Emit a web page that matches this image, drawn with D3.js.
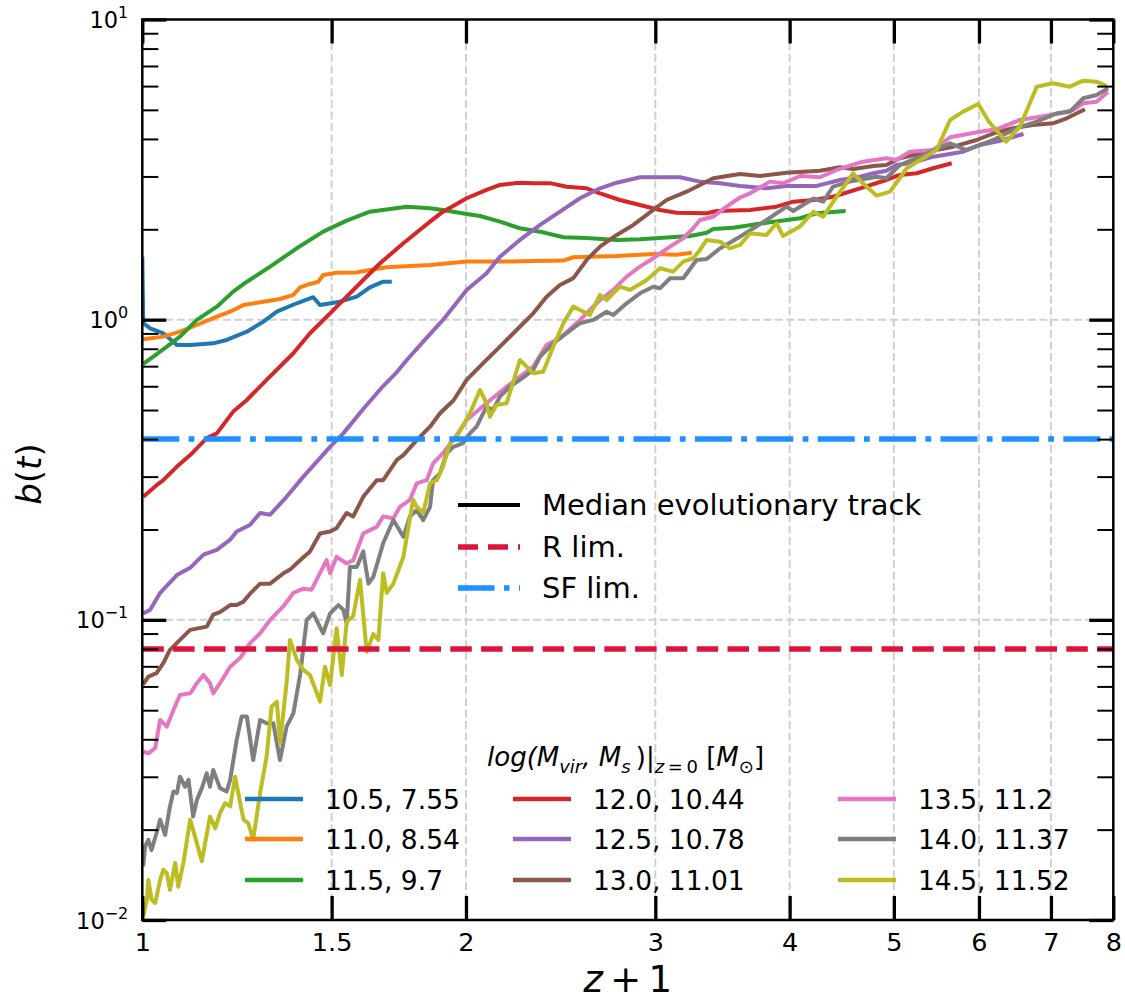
<!DOCTYPE html>
<html>
<head>
<meta charset="utf-8">
<title>b(t) evolutionary tracks</title>
<script src="https://cdn.jsdelivr.net/npm/d3@7/dist/d3.min.js"></script>
<style>
  body { margin: 0; background: #fff; }
  svg { font-family: 'DejaVu Sans', sans-serif; }
</style>
</head>
<body>
<div id="chart"></div>
<script>
'use strict';

// axis ticks
var xTicks = [ 1, 1.5, 2, 3, 4, 5, 6, 7, 8 ];
var yMajor = [ 0.01, 0.1, 1, 10 ];
var yMinor = [ 2, 3, 4, 5, 6, 7, 8, 9 ];
var yExponents = [ '\u22122', '\u22121', '0', '1' ];

// legend texts
var massLabels = [
  '10.5, 7.55', '11.0, 8.54', '11.5, 9.7',
  '12.0, 10.44', '12.5, 10.78', '13.0, 11.01',
  '13.5, 11.2', '14.0, 11.37', '14.5, 11.52'
];
var limitLabels = [ 'Median evolutionary track', 'R lim.', 'SF lim.' ];

// horizontal limits
var rLim = 0.08;
var sfLim = 0.4;

// tracks: [z + 1, b(t)]
var track105 = [[1.000,1.62],[1.002,0.973],[1.017,0.936],[1.046,0.901],[1.077,0.823],[1.108,0.823],[1.164,0.834],[1.198,0.856],[1.251,0.912],[1.296,0.985],[1.334,1.063],[1.392,1.134],[1.442,1.188],[1.463,1.119],[1.527,1.148],[1.583,1.193],[1.628,1.282],[1.675,1.338],[1.706,1.338]];

var track110 = [[1.002,0.860],[1.046,0.878],[1.084,0.912],[1.124,0.960],[1.173,1.023],[1.207,1.063],[1.242,1.119],[1.296,1.148],[1.343,1.172],[1.382,1.209],[1.402,1.282],[1.432,1.315],[1.458,1.338],[1.473,1.409],[1.516,1.434],[1.583,1.437],[1.628,1.464],[1.688,1.495],[1.852,1.521],[2.003,1.561],[2.151,1.561],[2.464,1.573],[2.517,1.614],[2.762,1.630],[2.987,1.655],[3.140,1.646],[3.244,1.672]];

var track115 = [[1.002,0.712],[1.024,0.753],[1.054,0.813],[1.084,0.878],[1.124,0.998],[1.173,1.105],[1.215,1.240],[1.251,1.338],[1.315,1.502],[1.392,1.729],[1.473,1.964],[1.549,2.137],[1.628,2.290],[1.762,2.379],[1.852,2.350],[1.904,2.320],[2.003,2.250],[2.061,2.215],[2.151,2.121],[2.245,2.016],[2.344,1.964],[2.464,1.882],[2.590,1.872],[2.762,1.843],[2.903,1.853],[3.051,1.876],[3.232,1.900],[3.349,1.949],[3.396,2.004],[3.545,2.025],[3.807,2.104],[4.090,2.177],[4.238,2.262],[4.509,2.302]];

var track120 = [[1.002,0.257],[1.031,0.281],[1.046,0.292],[1.077,0.324],[1.108,0.354],[1.148,0.403],[1.173,0.418],[1.215,0.494],[1.251,0.540],[1.305,0.630],[1.382,0.773],[1.432,0.901],[1.495,1.050],[1.549,1.193],[1.605,1.356],[1.664,1.541],[1.749,1.797],[1.852,2.121],[1.904,2.290],[2.003,2.538],[2.090,2.705],[2.151,2.810],[2.245,2.860],[2.310,2.850],[2.394,2.850],[2.481,2.773],[2.590,2.739],[2.665,2.636],[2.781,2.504],[2.903,2.410],[3.030,2.320],[3.140,2.272],[3.349,2.262],[3.421,2.302],[3.675,2.320],[3.889,2.379],[4.031,2.472],[4.210,2.504],[4.390,2.568],[4.650,2.739],[4.920,2.920],[5.065,3.034],[5.250,3.074],[5.440,3.194],[5.660,3.319]];

var track125 = [[1.002,0.105],[1.017,0.108],[1.039,0.123],[1.077,0.141],[1.108,0.149],[1.140,0.165],[1.173,0.171],[1.207,0.185],[1.224,0.197],[1.259,0.207],[1.287,0.227],[1.315,0.224],[1.362,0.257],[1.412,0.300],[1.495,0.377],[1.538,0.418],[1.605,0.504],[1.675,0.601],[1.725,0.669],[1.762,0.734],[1.825,0.845],[1.904,0.998],[2.003,1.256],[2.090,1.427],[2.151,1.621],[2.245,1.843],[2.344,2.068],[2.446,2.290],[2.553,2.538],[2.665,2.739],[2.762,2.860],[2.903,2.981],[3.163,2.981],[3.301,2.883],[3.447,2.848],[3.597,2.790],[3.807,2.739],[3.974,2.790],[4.238,2.790],[4.455,2.920],[4.650,2.995],[4.785,3.074],[4.920,3.136],[5.029,3.276],[5.210,3.334],[5.440,3.491],[5.800,3.627],[6.010,3.819],[6.280,3.947],[6.600,4.155]];

var track130 = [[1.002,0.061],[1.013,0.0647],[1.031,0.0664],[1.046,0.0717],[1.061,0.0794],[1.084,0.0857],[1.108,0.0926],[1.148,0.0949],[1.164,0.104],[1.181,0.106],[1.207,0.112],[1.224,0.112],[1.242,0.115],[1.259,0.122],[1.287,0.132],[1.315,0.132],[1.353,0.143],[1.372,0.147],[1.402,0.158],[1.432,0.169],[1.463,0.194],[1.495,0.197],[1.516,0.202],[1.549,0.227],[1.571,0.221],[1.605,0.257],[1.652,0.292],[1.675,0.292],[1.725,0.341],[1.749,0.354],[1.800,0.397],[1.852,0.440],[1.892,0.488],[1.947,0.538],[2.003,0.630],[2.075,0.716],[2.151,0.813],[2.229,0.924],[2.310,1.050],[2.377,1.193],[2.446,1.305],[2.517,1.375],[2.590,1.581],[2.665,1.751],[2.762,1.915],[2.862,2.068],[2.945,2.233],[3.073,2.504],[3.208,2.669],[3.301,2.810],[3.396,2.958],[3.597,3.057],[3.755,3.010],[3.974,3.088],[4.268,3.136],[4.455,3.219],[4.584,3.177],[4.785,3.251],[4.920,3.276],[5.065,3.448],[5.365,3.627],[5.680,3.770],[5.970,3.968],[6.190,4.177],[6.450,4.341],[6.730,4.452],[7.030,4.510],[7.240,4.688],[7.530,5.022]];

var track135 = [[1.002,0.0364],[1.013,0.0359],[1.028,0.0374],[1.039,0.0464],[1.054,0.0441],[1.069,0.0501],[1.084,0.0562],[1.108,0.0569],[1.124,0.0615],[1.140,0.0655],[1.156,0.0615],[1.164,0.0569],[1.181,0.0615],[1.207,0.0698],[1.233,0.0746],[1.259,0.0835],[1.287,0.0902],[1.315,0.0999],[1.353,0.111],[1.382,0.123],[1.412,0.127],[1.437,0.126],[1.463,0.143],[1.484,0.158],[1.495,0.143],[1.516,0.162],[1.549,0.154],[1.571,0.158],[1.605,0.194],[1.652,0.204],[1.675,0.221],[1.712,0.218],[1.736,0.238],[1.774,0.251],[1.800,0.285],[1.839,0.292],[1.864,0.332],[1.904,0.359],[1.947,0.398],[2.003,0.463],[2.090,0.527],[2.182,0.598],[2.245,0.646],[2.310,0.697],[2.377,0.824],[2.446,0.867],[2.553,0.998],[2.665,1.163],[2.742,1.256],[2.821,1.391],[2.903,1.502],[2.987,1.602],[3.096,1.751],[3.185,1.867],[3.254,2.016],[3.301,2.148],[3.396,2.203],[3.495,2.379],[3.597,2.553],[3.675,2.636],[3.835,2.883],[3.944,2.848],[4.090,3.010],[4.268,2.981],[4.424,3.153],[4.680,3.360],[4.920,3.448],[5.029,3.404],[5.174,3.627],[5.440,3.675],[5.640,4.052],[6.010,4.230],[6.230,4.308],[6.550,4.627],[6.840,4.746],[7.140,4.871],[7.340,4.996],[7.500,5.260],[7.720,5.325],[7.910,5.748]];

var track140 = [[1.002,0.0151],[1.006,0.0176],[1.013,0.0185],[1.020,0.0171],[1.031,0.0195],[1.039,0.0216],[1.050,0.0192],[1.061,0.0239],[1.069,0.0268],[1.077,0.0265],[1.084,0.0300],[1.096,0.0278],[1.104,0.0293],[1.115,0.0221],[1.124,0.0251],[1.136,0.0275],[1.148,0.0308],[1.156,0.0278],[1.164,0.0316],[1.181,0.0275],[1.198,0.0268],[1.207,0.0293],[1.224,0.0398],[1.237,0.0476],[1.251,0.0476],[1.268,0.0341],[1.287,0.0464],[1.305,0.0452],[1.324,0.0452],[1.343,0.0341],[1.362,0.0441],[1.382,0.0488],[1.402,0.0655],[1.422,0.0999],[1.442,0.105],[1.473,0.0902],[1.495,0.105],[1.522,0.112],[1.538,0.108],[1.549,0.0974],[1.560,0.150],[1.583,0.150],[1.605,0.169],[1.623,0.132],[1.640,0.139],[1.675,0.180],[1.712,0.215],[1.749,0.189],[1.774,0.221],[1.800,0.232],[1.825,0.215],[1.852,0.238],[1.864,0.292],[1.892,0.308],[1.919,0.359],[1.947,0.377],[1.988,0.388],[2.017,0.418],[2.046,0.440],[2.090,0.513],[2.119,0.500],[2.151,0.554],[2.198,0.598],[2.245,0.630],[2.310,0.680],[2.344,0.753],[2.411,0.834],[2.481,0.901],[2.553,0.973],[2.627,0.998],[2.703,1.063],[2.742,1.037],[2.821,1.134],[2.903,1.224],[2.987,1.288],[3.030,1.272],[3.096,1.374],[3.185,1.374],[3.277,1.581],[3.349,1.593],[3.447,1.729],[3.597,1.890],[3.807,2.148],[3.974,2.379],[4.031,2.302],[4.210,2.533],[4.298,2.472],[4.390,2.773],[4.550,2.883],[4.820,2.995],[4.920,2.958],[5.065,3.276],[5.290,3.491],[5.640,3.869],[5.840,3.675],[6.190,3.968],[6.500,4.341],[6.790,4.566],[7.090,4.871],[7.290,4.932],[7.500,5.464],[7.720,5.604],[7.910,5.899]];

var track145 = [[1.002,0.0103],[1.010,0.0117],[1.013,0.0136],[1.020,0.0117],[1.028,0.0114],[1.039,0.0136],[1.046,0.0147],[1.054,0.0143],[1.061,0.0126],[1.073,0.0155],[1.080,0.0129],[1.092,0.0155],[1.108,0.0216],[1.124,0.0180],[1.136,0.0157],[1.156,0.0221],[1.169,0.0202],[1.181,0.0227],[1.194,0.0245],[1.207,0.0239],[1.220,0.0300],[1.228,0.0265],[1.242,0.0216],[1.255,0.0210],[1.268,0.0185],[1.287,0.0265],[1.305,0.0350],[1.319,0.0514],[1.334,0.0534],[1.343,0.0388],[1.362,0.0615],[1.372,0.0857],[1.392,0.0735],[1.412,0.0681],[1.432,0.0655],[1.463,0.0534],[1.479,0.0698],[1.495,0.0607],[1.516,0.0938],[1.533,0.0655],[1.549,0.0984],[1.571,0.103],[1.594,0.136],[1.617,0.0782],[1.640,0.0897],[1.658,0.0857],[1.675,0.143],[1.688,0.123],[1.712,0.132],[1.749,0.162],[1.786,0.251],[1.800,0.238],[1.825,0.227],[1.852,0.285],[1.879,0.292],[1.904,0.324],[1.933,0.388],[1.961,0.408],[2.017,0.488],[2.061,0.583],[2.090,0.527],[2.105,0.475],[2.135,0.520],[2.182,0.527],[2.245,0.734],[2.310,0.663],[2.360,0.671],[2.411,0.813],[2.464,0.973],[2.517,1.105],[2.553,1.077],[2.608,1.037],[2.665,1.209],[2.703,1.163],[2.781,1.288],[2.842,1.256],[2.945,1.356],[3.030,1.483],[3.117,1.445],[3.185,1.561],[3.254,1.602],[3.301,1.707],[3.349,1.843],[3.447,1.819],[3.520,1.729],[3.597,1.774],[3.675,1.940],[3.807,1.915],[3.889,2.095],[3.944,1.900],[4.090,2.044],[4.210,2.290],[4.298,2.203],[4.424,2.568],[4.584,3.074],[4.680,2.847],[4.820,2.588],[4.960,2.669],[5.140,3.194],[5.290,3.404],[5.480,3.675],[5.640,4.627],[5.800,4.932],[5.990,5.230],[6.130,4.566],[6.360,3.916],[6.550,4.395],[6.790,5.973],[7.030,6.131],[7.290,5.973],[7.500,6.254],[7.720,6.207],[7.890,6.005]];

var tracks = [ track105, track110, track115, track120, track125, track130, track135, track140, track145 ];

var colors = [ '#1f77b4', '#ff7f0e', '#2ca02c', '#d62728', '#9467bd', '#8c564b', '#e377c2', '#7f7f7f', '#bcbd22' ];

(function() {
  var width = 1125,
    height = 1001,
    frame = { left: 142.3, right: 1113.3, top: 19.5, bottom: 920 },
    svg,
    x,
    y,
    line,
    plot,
    minorValues;

  x = d3.scaleLog().domain( [ 1, 8 ] ).range( [ frame.left, frame.right ] );
  y = d3.scaleLog().domain( [ 0.01, 10 ] ).range( [ frame.bottom, frame.top ] );

  svg = d3.select( '#chart' )
    .append( 'svg' )
    .attr( 'width', width )
    .attr( 'height', height );

  svg.append( 'defs' )
    .append( 'clipPath' )
    .attr( 'id', 'plot-clip' )
    .append( 'rect' )
    .attr( 'x', frame.left )
    .attr( 'y', frame.top )
    .attr( 'width', frame.right - frame.left )
    .attr( 'height', frame.bottom - frame.top );

  // grid
  var grid = svg.append( 'g' )
    .attr( 'stroke', '#d0d0d0' )
    .attr( 'stroke-width', 2 )
    .attr( 'stroke-dasharray', '8,3.5' );

  grid.selectAll( '.vgrid' )
    .data( xTicks.slice( 1, -1 ) )
    .enter().append( 'line' )
    .attr( 'class', 'vgrid' )
    .attr( 'x1', function( d ) { return x( d ); })
    .attr( 'x2', function( d ) { return x( d ); })
    .attr( 'y1', frame.top )
    .attr( 'y2', frame.bottom );

  grid.selectAll( '.hgrid' )
    .data( yMajor.slice( 1, -1 ) )
    .enter().append( 'line' )
    .attr( 'class', 'hgrid' )
    .attr( 'x1', frame.left )
    .attr( 'x2', frame.right )
    .attr( 'y1', function( d ) { return y( d ); })
    .attr( 'y2', function( d ) { return y( d ); });

  // tracks
  line = d3.line()
    .x( function( d ) { return x( d[0] ); })
    .y( function( d ) { return y( d[1] ); });

  plot = svg.append( 'g' ).attr( 'clip-path', 'url(#plot-clip)' );

  plot.selectAll( '.track' )
    .data( tracks )
    .enter().append( 'path' )
    .attr( 'class', 'track' )
    .attr( 'd', line )
    .attr( 'fill', 'none' )
    .attr( 'stroke', function( d, i ) { return colors[i]; })
    .attr( 'stroke-width', 4 )
    .attr( 'stroke-linejoin', 'round' )
    .attr( 'stroke-linecap', 'butt' );

  // limits
  plot.append( 'line' )
    .attr( 'x1', x( 1 ) )
    .attr( 'x2', x( 8 ) )
    .attr( 'y1', y( rLim ) )
    .attr( 'y2', y( rLim ) )
    .attr( 'stroke', '#dc143c' )
    .attr( 'stroke-width', 5.5 )
    .attr( 'stroke-dasharray', '21.5,9.3' );

  plot.append( 'line' )
    .attr( 'x1', x( 1 ) )
    .attr( 'x2', x( 8 ) )
    .attr( 'y1', y( sfLim ) )
    .attr( 'y2', y( sfLim ) )
    .attr( 'stroke', '#1e90ff' )
    .attr( 'stroke-width', 5.5 )
    .attr( 'stroke-dasharray', '37,9.3,5.8,9.3' );

  // axes, ticks pointing inward
  minorValues = [];
  yMajor.slice( 0, -1 ).forEach(function( m ) {
    yMinor.forEach(function( k ) { minorValues.push( m * k ); });
  });

  function styleTicks( g, w ) {
    g.select( '.domain' ).remove();
    g.selectAll( '.tick line' )
      .attr( 'stroke', '#000' )
      .attr( 'stroke-width', w );
  }

  var xBottom = svg.append( 'g' )
    .attr( 'transform', 'translate(0,' + frame.bottom + ')' )
    .call( d3.axisBottom( x )
      .tickValues( xTicks )
      .tickSize( -24 )
      .tickPadding( 13 )
      .tickFormat( d3.format( '' ) ) );
  styleTicks( xBottom, 3.3 );
  xBottom.selectAll( 'text' )
    .attr( 'fill', '#000' )
    .style( 'font-size', '25.5px' )
    .style( 'font-family', 'DejaVu Sans' );

  var xTop = svg.append( 'g' )
    .attr( 'transform', 'translate(0,' + frame.top + ')' )
    .call( d3.axisTop( x ).tickValues( xTicks ).tickSize( -24 ).tickFormat( '' ) );
  styleTicks( xTop, 3.3 );

  [ [ d3.axisLeft, frame.left ], [ d3.axisRight, frame.right ] ].forEach(function( a ) {
    var major, minor;

    minor = svg.append( 'g' )
      .attr( 'transform', 'translate(' + a[1] + ',0)' )
      .call( a[0]( y ).tickValues( minorValues ).tickSize( -16 ).tickFormat( '' ) );
    styleTicks( minor, 2 );

    major = svg.append( 'g' )
      .attr( 'class', a[1] === frame.left ? 'y-left' : 'y-right' )
      .attr( 'transform', 'translate(' + a[1] + ',0)' )
      .call( a[0]( y ).tickValues( yMajor ).tickSize( -24 ).tickFormat( '' ) );
    styleTicks( major, 3.3 );
  });

  // y tick labels as 10 with superscript
  svg.select( '.y-left' ).selectAll( '.tick' )
    .each(function( d, i ) {
      var t = d3.select( this ).select( 'text' );

      t.attr( 'x', -14 )
        .attr( 'dy', null )
        .attr( 'y', 8 )
        .attr( 'fill', '#000' )
        .attr( 'text-anchor', 'end' )
        .style( 'font-size', '22.5px' )
        .style( 'font-family', 'DejaVu Sans' );
      t.append( 'tspan' ).text( '10' );
      t.append( 'tspan' )
        .attr( 'dy', -10 )
        .style( 'font-size', '16px' )
        .text( yExponents[i] );
    });

  svg.append( 'rect' )
    .attr( 'x', frame.left )
    .attr( 'y', frame.top )
    .attr( 'width', frame.right - frame.left )
    .attr( 'height', frame.bottom - frame.top )
    .attr( 'fill', 'none' )
    .attr( 'stroke', '#000' )
    .attr( 'stroke-width', 2.5 );

  // axis titles
  var yTitle = svg.append( 'text' )
    .attr( 'transform', 'translate(41,474) rotate(-90)' )
    .attr( 'text-anchor', 'middle' )
    .style( 'font-size', '34px' );
  yTitle.append( 'tspan' ).style( 'font-style', 'italic' ).text( 'b' );
  yTitle.append( 'tspan' ).text( '(' );
  yTitle.append( 'tspan' ).style( 'font-style', 'italic' ).text( 't' );
  yTitle.append( 'tspan' ).text( ')' );

  var xTitle = svg.append( 'text' )
    .attr( 'x', ( frame.left + frame.right ) / 2 )
    .attr( 'y', 992 )
    .attr( 'text-anchor', 'middle' )
    .style( 'font-size', '37px' );
  xTitle.append( 'tspan' ).style( 'font-style', 'italic' ).text( 'z' );
  xTitle.append( 'tspan' ).text( '\u2009+\u20091' );

  // legend for limits
  var limitLegend = svg.append( 'g' ).style( 'font-size', '29px' );
  var limitStyles = [
    { color: '#000', dash: null },
    { color: '#dc143c', dash: '20,10' },
    { color: '#1e90ff', dash: '36.5,9.5,5.5,9.5' }
  ];
  var limitRows = [ 505, 547, 588 ];

  limitLabels.forEach(function( label, i ) {
    limitLegend.append( 'line' )
      .attr( 'x1', 458 )
      .attr( 'x2', 520 )
      .attr( 'y1', limitRows[i] )
      .attr( 'y2', limitRows[i] )
      .attr( 'stroke', limitStyles[i].color )
      .attr( 'stroke-width', i === 0 ? 4 : 5.5 )
      .attr( 'stroke-dasharray', limitStyles[i].dash );

    limitLegend.append( 'text' )
      .attr( 'x', 542 )
      .attr( 'y', limitRows[i] )
      .attr( 'dy', '0.36em' )
      .text( label );
  });

  // legend for mass tracks
  var massLegend = svg.append( 'g' ).style( 'font-size', '26.5px' );
  var colX = [ 245, 513, 838 ];
  var rowY = [ 799, 839, 880 ];

  var title = massLegend.append( 'text' )
    .attr( 'x', 487 )
    .attr( 'y', 766 )
    .style( 'font-size', '26px' );
  title.append( 'tspan' ).style( 'font-style', 'italic' ).text( 'log(M' );
  title.append( 'tspan' ).attr( 'dy', 7 ).style( 'font-style', 'italic' ).style( 'font-size', '18px' ).text( 'vir' );
  title.append( 'tspan' ).attr( 'dy', -7 ).style( 'font-style', 'italic' ).text( ', M' );
  title.append( 'tspan' ).attr( 'dy', 7 ).style( 'font-style', 'italic' ).style( 'font-size', '18px' ).text( 's' );
  title.append( 'tspan' ).attr( 'dy', -7 ).text( '\u2009)|' );
  title.append( 'tspan' ).attr( 'dy', 7 ).style( 'font-size', '18px' ).html( '<tspan font-style="italic">z</tspan>\u2009=\u20090' );
  title.append( 'tspan' ).attr( 'dy', -7 ).text( ' [' );
  title.append( 'tspan' ).style( 'font-style', 'italic' ).text( 'M' );
  title.append( 'tspan' ).attr( 'dy', 7 ).style( 'font-size', '18px' ).text( '\u2299' );
  title.append( 'tspan' ).attr( 'dy', -7 ).text( ']' );

  massLabels.forEach(function( label, i ) {
    var cx = colX[ Math.floor( i / 3 ) ],
      cy = rowY[ i % 3 ];

    massLegend.append( 'line' )
      .attr( 'x1', cx )
      .attr( 'x2', cx + 58 )
      .attr( 'y1', cy )
      .attr( 'y2', cy )
      .attr( 'stroke', colors[i] )
      .attr( 'stroke-width', 4.5 );

    massLegend.append( 'text' )
      .attr( 'x', cx + 80 )
      .attr( 'y', cy )
      .attr( 'dy', '0.36em' )
      .text( label );
  });
})();
</script>
</body>
</html>
